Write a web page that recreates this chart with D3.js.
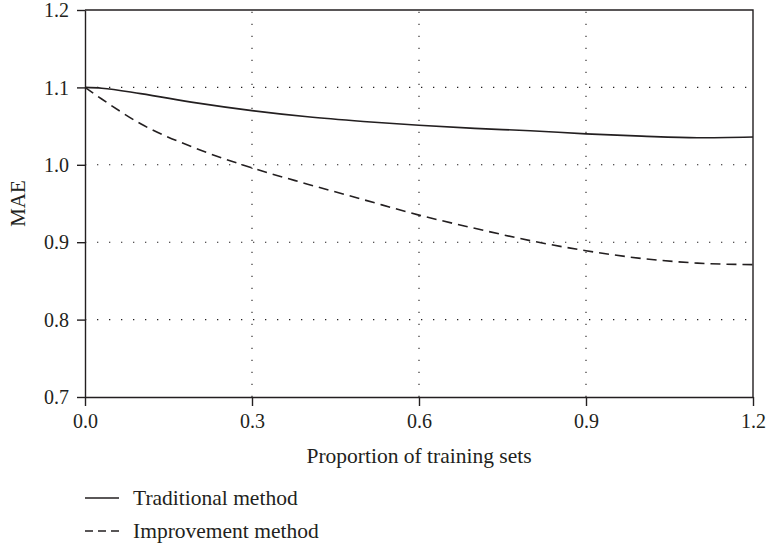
<!DOCTYPE html>
<html>
<head>
<meta charset="utf-8">
<script src="https://cdn.jsdelivr.net/npm/d3@7"></script>
<style>
  html, body { margin: 0; padding: 0; background: #fff; }
  svg { display: block; }
  text { font-family: "Liberation Serif", "DejaVu Serif", serif; fill: #231f20; }
</style>
</head>
<body>
<svg id="chart" width="767" height="547"></svg>
<script>
// ---- data ----
const proportions = [0, 0.03, 0.1, 0.2, 0.3, 0.4, 0.5, 0.6, 0.7, 0.8, 0.9, 1.0, 1.1, 1.2];
const traditional = [1.100, 1.099, 1.092, 1.080, 1.070, 1.062, 1.056, 1.051, 1.047, 1.044, 1.040, 1.037, 1.035, 1.036];
const improvement = [1.100, 1.085, 1.053, 1.021, 0.996, 0.975, 0.955, 0.935, 0.918, 0.902, 0.889, 0.879, 0.873, 0.871];
const xTicks = [0, 0.3, 0.6, 0.9, 1.2];
const yTicks = [0.7, 0.8, 0.9, 1.0, 1.1, 1.2];
const seriesNames = ["Traditional method", "Improvement method"];
const xLabel = "Proportion of training sets";
const yLabel = "MAE";

// ---- layout ----
const svg = d3.select("#chart");
const pLeft = 85, pRight = 753, pTop = 10, pBottom = 397;
const ink = "#231f20";

const x = d3.scaleLinear().domain([0, 1.2]).range([pLeft, pRight]);
const y = d3.scaleLinear().domain([0.7, 1.2]).range([pBottom, pTop]);

// grid
const grid = svg.append("g");
grid.selectAll("line.gx").data(xTicks.filter(d => d > 0 && d < 1.2)).join("line")
  .attr("x1", d => x(d)).attr("x2", d => x(d))
  .attr("y1", pBottom).attr("y2", pTop)
  .attr("stroke", ink).attr("stroke-width", 1.1)
  .attr("stroke-dasharray", "1.3,10.7").attr("stroke-dashoffset", -12);
grid.selectAll("line.gy").data(yTicks.filter(d => d > 0.7 && d < 1.2)).join("line")
  .attr("x1", pLeft).attr("x2", pRight)
  .attr("y1", d => y(d)).attr("y2", d => y(d))
  .attr("stroke", ink).attr("stroke-width", 1.1)
  .attr("stroke-dasharray", "1.3,10.7").attr("stroke-dashoffset", -12);

// frame top/right
svg.append("path")
  .attr("d", `M${pLeft},${pTop}H${pRight}V${pBottom}`)
  .attr("fill", "none").attr("stroke", ink).attr("stroke-width", 1.4);

// axes
const xAxis = d3.axisBottom(x).tickValues(xTicks).tickFormat(d3.format(".1f")).tickSize(9).tickSizeOuter(0);
const yAxis = d3.axisLeft(y).tickValues(yTicks).tickFormat(d3.format(".1f")).tickSize(8).tickSizeOuter(0);

const gx = svg.append("g").attr("transform", `translate(0,${pBottom})`).call(xAxis);
const gy = svg.append("g").attr("transform", `translate(${pLeft},0)`).call(yAxis);
[gx, gy].forEach(g => {
  g.select(".domain").attr("stroke", ink).attr("stroke-width", 1.4);
  g.selectAll(".tick line").attr("stroke", ink).attr("stroke-width", 1.4);
  g.selectAll(".tick text").attr("fill", ink)
    .style("font-family", '"Liberation Serif", "DejaVu Serif", serif')
    .style("font-size", "20px");
});
gx.selectAll(".tick text").attr("dy", "0").attr("y", 31);
gy.selectAll(".tick text").attr("x", -16).attr("dy", "0.33em");

// lines
const line = d3.line().x((d, i) => x(proportions[i])).y(d => y(d)).curve(d3.curveMonotoneX);
svg.append("path").datum(traditional).attr("d", line)
  .attr("fill", "none").attr("stroke", ink).attr("stroke-width", 1.6);
svg.append("path").datum(improvement).attr("d", line)
  .attr("fill", "none").attr("stroke", ink).attr("stroke-width", 1.6)
  .attr("stroke-dasharray", "10,6");

// axis labels
svg.append("text").attr("x", (pLeft + pRight) / 2).attr("y", 463)
  .attr("text-anchor", "middle").style("font-size", "21.5px").text(xLabel);
svg.append("text").attr("transform", `translate(25,${(pTop + pBottom) / 2}) rotate(-90)`)
  .attr("text-anchor", "middle").style("font-size", "21px").text(yLabel);

// legend
const legendY = [498, 531];
const dashes = [null, "8,5"];
seriesNames.forEach((name, i) => {
  svg.append("line").attr("x1", 85).attr("x2", 119)
    .attr("y1", legendY[i]).attr("y2", legendY[i])
    .attr("stroke", ink).attr("stroke-width", 1.4)
    .attr("stroke-dasharray", dashes[i]);
  svg.append("text").attr("x", 133).attr("y", legendY[i] + 7)
    .style("font-size", "21.5px").text(name);
});
</script>
</body>
</html>
